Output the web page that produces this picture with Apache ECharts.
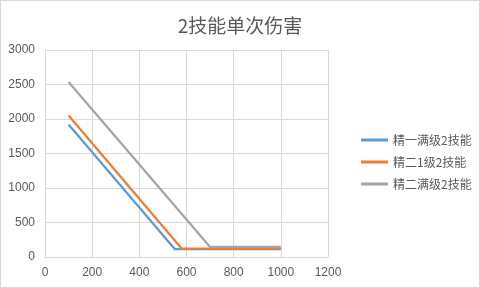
<!DOCTYPE html>
<html><head><meta charset="utf-8">
<script src="https://cdn.jsdelivr.net/npm/echarts@6/dist/echarts.min.js"></script>
<style>html,body{margin:0;padding:0;background:#fff}#c{width:478px;height:286px;border:1px solid #d9d9d9}</style>
</head><body><div id="c"></div>
<script>
const seriesNames = ['精一满级2技能', '精二1级2技能', '精二满级2技能'];
const s1x = [100, 550, 1000];
const s1y = [1920, 115, 115];
const s2x = [100, 580, 1000];
const s2y = [2050, 120, 120];
const s3x = [100, 700, 1000];
const s3y = [2535, 145, 145];
const colors = ['#5B9BD5', '#ED7D31', '#A5A5A5'];
const xs = [s1x, s2x, s3x], ys = [s1y, s2y, s3y];
const font = '"Noto Sans CJK SC", "Liberation Sans", sans-serif';
const chart = echarts.init(document.getElementById('c'), null, {renderer: 'canvas'});
chart.setOption({
  animation: false,
  title: {text: '2技能单次伤害', left: 'center', top: 10, textStyle: {fontSize: 19, fontWeight: 'normal', color: '#595959', fontFamily: font}},
  grid: {left: 44, right: 151, top: 49, bottom: 30},
  legend: {orient: 'vertical', left: 355, top: 128, itemGap: 10, itemWidth: 27, itemHeight: 3, icon: 'rect',
    textStyle: {fontSize: 12, color: '#595959', fontFamily: font}, data: seriesNames},
  xAxis: {type: 'value', min: 0, max: 1200, interval: 200,
    axisLine: {show: false}, axisTick: {show: false},
    axisLabel: {color: '#595959', fontSize: 12, fontFamily: '"Liberation Sans", sans-serif', margin: 10, formatter: v => String(v)},
    splitLine: {show: true, lineStyle: {color: '#d9d9d9', width: 1}}},
  yAxis: {type: 'value', min: 0, max: 3000, interval: 500,
    axisLine: {show: false}, axisTick: {show: false},
    axisLabel: {color: '#595959', fontSize: 12, fontFamily: '"Liberation Sans", sans-serif', margin: 10, formatter: v => String(v)},
    splitLine: {show: true, lineStyle: {color: '#d9d9d9', width: 1}}},
  series: seriesNames.map((n, i) => ({
    name: n, type: 'line', showSymbol: false, symbol: 'none',
    data: xs[i].map((x, j) => [x, ys[i][j]]),
    lineStyle: {color: colors[i], width: 2.25}, itemStyle: {color: colors[i]}
  }))
});
</script></body></html>
